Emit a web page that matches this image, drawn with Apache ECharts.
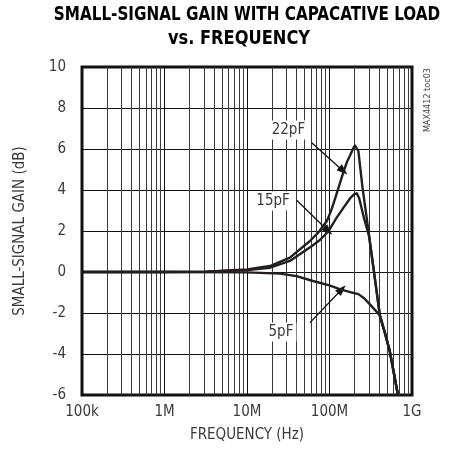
<!DOCTYPE html>
<html>
<head>
<meta charset="utf-8">
<script src="https://cdn.jsdelivr.net/npm/echarts@6/dist/echarts.min.js"></script>
<style>
  html, body { margin: 0; padding: 0; background: #fff; }
  #chart { width: 458px; height: 458px; }
</style>
</head>
<body>
<div id="chart"></div>
<script>
// ---- data ----
var freq22 = [1e5, 1e6, 3.16e6, 1e7, 1.9e7, 3.31e7, 5.75e7, 7.41e7, 9.33e7, 1.047e8, 1.175e8, 1.318e8, 1.48e8, 1.622e8, 1.78e8, 1.95e8, 2.04e8, 2.14e8, 2.24e8, 2.51e8, 2.82e8, 3.16e8, 3.55e8, 4.09e8, 4.68e8, 5.37e8, 6.76e8];
var gain22 = [0, 0, 0.02, 0.12, 0.29, 0.7, 1.5, 1.95, 2.5, 3.0, 3.6, 4.25, 4.9, 5.35, 5.7, 6.05, 6.17, 6.2, 5.9, 4.13, 2.65, 1.17, -0.32, -2.15, -2.95, -3.85, -6];

var freq15 = [1e5, 1e6, 3.16e6, 1e7, 1.9e7, 3.31e7, 5.75e7, 7.59e7, 9.77e7, 1.2e8, 1.48e8, 1.78e8, 2.0e8, 2.14e8, 2.29e8, 2.63e8, 3.02e8, 3.55e8, 4.09e8, 4.68e8, 5.37e8, 6.76e8];
var gain15 = [0, 0, 0.01, 0.1, 0.21, 0.54, 1.19, 1.55, 2.0, 2.6, 3.14, 3.6, 3.8, 3.84, 3.6, 2.6, 1.75, -0.32, -2.15, -2.95, -3.85, -6];

var freq5 = [1e5, 1e6, 1e7, 2.51e7, 3.98e7, 6.31e7, 1e8, 1.35e8, 1.78e8, 2.24e8, 2.63e8, 3.09e8, 3.55e8, 4.09e8, 4.68e8, 5.37e8, 6.76e8];
var gain5 = [0, 0, -0.02, -0.08, -0.2, -0.44, -0.65, -0.85, -0.98, -1.08, -1.28, -1.58, -1.85, -2.12, -2.95, -3.85, -6];

var xTickLabels = ['100k', '1M', '10M', '100M', '1G'];
var yTicks = [-6, -4, -2, 0, 2, 4, 6, 8, 10];
var minorFreqs = [];
[1e5, 1e6, 1e7, 1e8].forEach(function (d) {
  [2, 3, 4, 5, 6, 7, 8, 9].forEach(function (m) { minorFreqs.push(d * m); });
});

// annotations (data coordinates: [frequency, gain])
var labelNames = ['22pF', '15pF', '5pF'];
var labelPos = [[3.18e7, 6.93], [2.07e7, 3.46], [2.58e7, -2.93]];
var arrowFrom = [[6.08e7, 6.31], [4.0e7, 3.5], [5.8e7, -2.47]];
var arrowTo = [[1.47e8, 4.93], [9.66e7, 2.0], [1.41e8, -0.84]];

function zip(xs, ys) { return xs.map(function (x, i) { return [x, ys[i]]; }); }

var FONT = '"Liberation Sans Narrow", "DejaVu Sans Condensed", "Liberation Sans", sans-serif';
var TITLE_FONT = '"DejaVu Sans Condensed", "DejaVu Sans", sans-serif';
var TEXT = '#3a3a3a';
var CURVE = '#231f20';

var chart = echarts.init(document.getElementById('chart'), null, { renderer: 'canvas' });

var curveSeries = function (name, data) {
  return {
    name: name, type: 'line', data: data, showSymbol: false, smooth: false,
    lineStyle: { color: CURVE, width: 2.4, join: 'round', cap: 'round' }, z: 5, silent: true, animation: false
  };
};

var option = {
  animation: false,
  grid: { left: 82, top: 67, right: 46, bottom: 63, show: true, borderColor: '#111', borderWidth: 3, backgroundColor: 'transparent' },
  xAxis: {
    type: 'log', logBase: 10, min: 1e5, max: 1e9,
    name: 'FREQUENCY (Hz)', nameLocation: 'middle', nameGap: 33,
    nameTextStyle: { fontFamily: FONT, fontSize: 15, color: TEXT },
    axisLine: { show: false }, axisTick: { show: false },
    axisLabel: {
      fontFamily: FONT, fontSize: 15, color: TEXT, margin: 10,
      formatter: function (v) { return xTickLabels[Math.round(Math.log10(v)) - 5]; }
    },
    splitLine: { show: true, lineStyle: { color: '#111', width: 1 } }
  },
  yAxis: {
    type: 'value', min: -6, max: 10, interval: 2,
    name: 'SMALL-SIGNAL GAIN (dB)', nameLocation: 'middle', nameGap: 54,
    nameTextStyle: { fontFamily: FONT, fontSize: 15, color: TEXT },
    axisLine: { show: false }, axisTick: { show: false },
    axisLabel: { fontFamily: FONT, fontSize: 15, color: TEXT, margin: 16,
      formatter: function (v) { return yTicks.indexOf(v) >= 0 ? String(v) : ''; } },
    splitLine: { show: true, lineStyle: { color: '#111', width: 1 } }
  },
  graphic: [
    {
      type: 'text', x: 247, y: 6, scaleX: 0.89,
      style: { text: 'SMALL-SIGNAL GAIN WITH CAPACATIVE LOAD', textAlign: 'center',
        fontFamily: TITLE_FONT, fontWeight: 'bold', fontSize: 19, fill: '#000' }
    },
    {
      type: 'text', x: 239, y: 30, scaleX: 0.95,
      style: { text: 'vs. FREQUENCY', textAlign: 'center',
        fontFamily: TITLE_FONT, fontWeight: 'bold', fontSize: 19, fill: '#000' }
    },
    {
      type: 'text', left: 423, top: 68, rotation: Math.PI / 2,
      style: { text: 'MAX4412 toc03', fontFamily: FONT, fontSize: 9, fill: '#444' }
    }
  ],
  series: [
    {
      type: 'line', data: [], silent: true, z: 1,
      markLine: {
        silent: true, symbol: ['none', 'none'], animation: false,
        label: { show: false },
        lineStyle: { color: '#3a3a3a', width: 1, type: 'solid' },
        data: minorFreqs.map(function (f) { return { xAxis: f }; })
      }
    },
    curveSeries('5pF', zip(freq5, gain5)),
    curveSeries('15pF', zip(freq15, gain15)),
    curveSeries('22pF', zip(freq22, gain22)),
    {
      type: 'line', data: [], silent: true, z: 10,
      markLine: {
        silent: true, animation: false, symbol: ['none', 'triangle'], symbolSize: [8, 11],
        label: { show: false },
        lineStyle: { color: '#111', width: 1.3, type: 'solid' },
        itemStyle: { color: '#111' },
        data: arrowFrom.map(function (a, i) {
          return [{ coord: a }, { coord: arrowTo[i] }];
        })
      },
      markPoint: {
        silent: true, animation: false, symbol: 'rect', symbolSize: 1,
        itemStyle: { color: 'rgba(0,0,0,0)' },
        label: {
          show: true, position: 'inside', fontFamily: FONT, fontSize: 15, color: TEXT,
          backgroundColor: '#fff', padding: [2, 3],
          formatter: function (p) { return p.name; }
        },
        data: labelNames.map(function (n, i) { return { name: n, coord: labelPos[i] }; })
      }
    }
  ]
};
chart.setOption(option);
</script>
</body>
</html>
